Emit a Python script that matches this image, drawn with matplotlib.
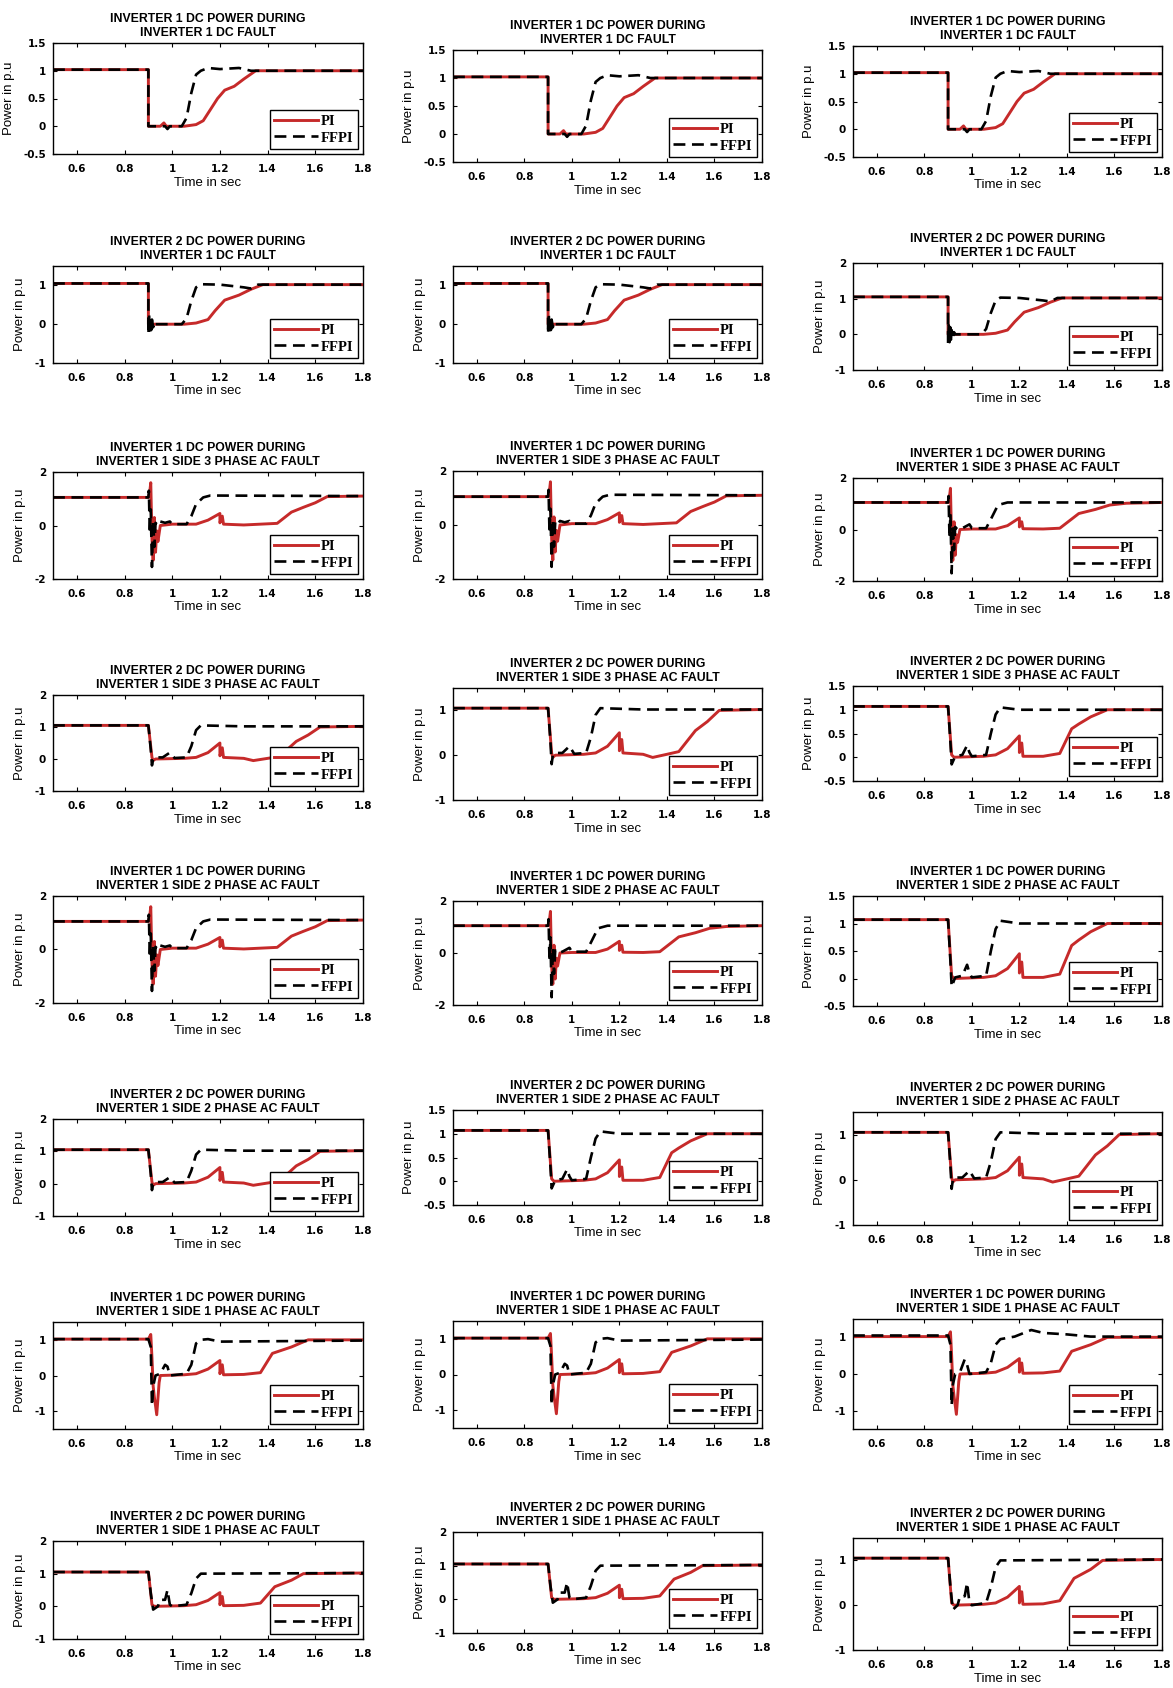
import matplotlib

matplotlib.use("Agg")
import matplotlib.pyplot as plt
from matplotlib.ticker import FuncFormatter

plt.rcParams["axes.unicode_minus"] = False

# ---- traces (time in s, power in p.u) ----
# inverter 1 DC power, inverter 1 DC fault
T_DC1_PI = [0.5, 0.9, 0.9, 0.95, 0.965, 0.975, 0.985, 1.05, 1.1, 1.13, 1.16, 1.19, 1.22, 1.26, 1.3, 1.35, 1.8]
P_DC1_PI = [1.02, 1.02, 0.0, 0.0, 0.06, 0.0, 0.0, 0.0, 0.03, 0.1, 0.3, 0.5, 0.65, 0.72, 0.85, 1.0, 1.0]
T_DC1_FF = [0.5, 0.9, 0.9, 0.97, 0.98, 0.99, 1.04, 1.06, 1.08, 1.1, 1.12, 1.15, 1.2, 1.28, 1.33, 1.8]
P_DC1_FF = [1.02, 1.02, 0.0, 0.0, -0.05, 0.0, 0.0, 0.15, 0.6, 0.93, 1.0, 1.05, 1.03, 1.05, 1.0, 1.0]

# inverter 2 DC power, inverter 1 DC fault
T_DC2_PI = [0.5, 0.9, 0.9, 0.95, 1.05, 1.1, 1.15, 1.18, 1.22, 1.28, 1.33, 1.38, 1.8]
P_DC2_PI = [1.05, 1.05, 0.0, 0.0, 0.0, 0.03, 0.12, 0.35, 0.62, 0.75, 0.9, 1.02, 1.02]
T_DC2_FF = [0.5, 0.9, 0.9, 0.903, 0.906, 0.909, 0.912, 0.915, 0.92, 0.925, 0.93, 0.95, 1.04, 1.06,
            1.08, 1.1, 1.12, 1.2, 1.3, 1.33, 1.36, 1.8]
P_DC2_FF = [1.05, 1.05, -0.25, 0.25, -0.22, 0.2, -0.15, 0.12, -0.08, 0.06, 0.0, 0.0, 0.0, 0.15,
            0.6, 0.95, 1.03, 1.02, 0.95, 0.92, 1.02, 1.02]

# inverter 1 DC power, AC fault on inverter 1 side (slow recovery)
T_AC_I1_PI = [0.5, 0.9, 0.905, 0.91, 0.915, 0.92, 0.925, 0.93, 0.935, 0.94, 0.95, 1.0, 1.1, 1.15, 1.2,
              1.2, 1.21, 1.215, 1.3, 1.44, 1.5, 1.55, 1.6, 1.65, 1.8]
P_AC_I1_PI = [1.05, 1.05, 1.2, 1.6, -0.5, -1.3, 0.3, -1.0, -0.2, -0.6, 0.0, 0.05, 0.05, 0.2, 0.45,
              0.1, 0.35, 0.05, 0.02, 0.08, 0.5, 0.68, 0.85, 1.08, 1.1]
T_AC_I1_FF = [0.5, 0.9, 0.902, 0.906, 0.91, 0.915, 0.92, 0.925, 0.93, 0.94, 0.95, 0.97, 0.99, 1.0,
              1.06, 1.08, 1.1, 1.13, 1.16, 1.8]
P_AC_I1_FF = [1.05, 1.05, 1.3, -0.3, 0.6, -1.55, 0.2, -0.8, 0.1, 0.0, 0.15, 0.1, 0.15, 0.05,
              0.05, 0.35, 0.8, 1.05, 1.12, 1.1]

# inverter 1 DC power, AC fault on inverter 1 side (faster recovery)
T_AC_I1B_PI = [0.5, 0.9, 0.905, 0.91, 0.915, 0.92, 0.925, 0.93, 0.935, 0.94, 0.95, 1.0, 1.1, 1.15, 1.2,
               1.2, 1.21, 1.215, 1.3, 1.37, 1.45, 1.52, 1.58, 1.65, 1.8]
P_AC_I1B_PI = [1.05, 1.05, 1.2, 1.6, -0.5, -1.2, 0.3, -1.0, -0.2, -0.5, 0.0, 0.02, 0.02, 0.15, 0.45,
               0.1, 0.3, 0.03, 0.02, 0.05, 0.62, 0.78, 0.95, 1.02, 1.05]
T_AC_I1B_FF = [0.5, 0.9, 0.902, 0.906, 0.91, 0.915, 0.92, 0.925, 0.93, 0.94, 0.96, 0.99, 1.0,
               1.06, 1.08, 1.11, 1.15, 1.8]
P_AC_I1B_FF = [1.05, 1.05, 1.3, -0.3, 0.6, -1.7, 0.2, -0.8, 0.1, 0.0, 0.05, 0.2, 0.05,
               0.05, 0.4, 0.95, 1.05, 1.05]

# inverter 2 DC power, AC fault on inverter 1 side (slow recovery)
T_AC_I2_PI = [0.5, 0.9, 0.915, 0.92, 0.93, 1.05, 1.1, 1.15, 1.2, 1.2, 1.21, 1.215, 1.3, 1.34, 1.4,
              1.45, 1.52, 1.57, 1.62, 1.8]
P_AC_I2_PI = [1.05, 1.05, 0.05, -0.05, 0.0, 0.02, 0.05, 0.2, 0.5, 0.1, 0.35, 0.05, 0.02, -0.05, 0.02,
              0.08, 0.55, 0.75, 1.0, 1.02]
T_AC_I2_FF = [0.5, 0.9, 0.91, 0.915, 0.92, 0.93, 0.96, 0.99, 1.01, 1.06, 1.08, 1.1, 1.12, 1.3, 1.8]
P_AC_I2_FF = [1.05, 1.05, 0.3, -0.2, 0.0, 0.05, 0.05, 0.2, 0.03, 0.05, 0.4, 0.9, 1.05, 1.02, 1.02]

# inverter 2 DC power, AC fault on inverter 1 side (faster recovery)
T_AC_I2F_PI = [0.5, 0.9, 0.915, 0.925, 1.05, 1.1, 1.15, 1.2, 1.2, 1.21, 1.215, 1.3, 1.37, 1.42,
               1.45, 1.5, 1.57, 1.8]
P_AC_I2F_PI = [1.07, 1.07, 0.05, 0.0, 0.02, 0.05, 0.18, 0.45, 0.1, 0.3, 0.02, 0.02, 0.08, 0.6,
               0.7, 0.85, 1.0, 1.0]
T_AC_I2F_FF = [0.5, 0.9, 0.91, 0.915, 0.93, 0.96, 0.98, 0.99, 1.0, 1.06, 1.08, 1.1, 1.12, 1.2, 1.8]
P_AC_I2F_FF = [1.07, 1.07, 0.3, -0.15, 0.02, 0.05, 0.25, 0.1, 0.02, 0.05, 0.5, 0.9, 1.05, 1.0, 1.0]

# inverter 1 DC power, single phase AC fault
T_AC1_I1_PI = [0.5, 0.9, 0.91, 0.915, 0.92, 0.925, 0.935, 0.945, 0.95, 1.05, 1.1, 1.15, 1.2, 1.2,
               1.21, 1.215, 1.3, 1.37, 1.42, 1.5, 1.57, 1.8]
P_AC1_I1_PI = [1.02, 1.02, 1.15, 0.5, -0.3, -0.6, -1.1, -0.2, 0.0, 0.02, 0.05, 0.18, 0.42, 0.05,
               0.3, 0.02, 0.03, 0.08, 0.62, 0.8, 1.0, 1.0]
T_AC1_I1_FF = [0.5, 0.9, 0.91, 0.915, 0.92, 0.93, 0.95, 0.97, 0.98, 0.99, 1.06, 1.08, 1.1, 1.12,
               1.15, 1.2, 1.8]
P_AC1_I1_FF = [1.02, 1.02, 0.8, -0.85, -0.3, 0.0, 0.05, 0.3, 0.25, 0.0, 0.05, 0.3, 0.9, 1.0,
               1.02, 0.95, 0.98]
T_AC1_I1B_FF = [0.5, 0.9, 0.91, 0.915, 0.92, 0.93, 0.95, 0.97, 0.98, 0.99, 1.06, 1.08, 1.1, 1.12,
                1.18, 1.25, 1.3, 1.4, 1.5, 1.8]
P_AC1_I1B_FF = [1.05, 1.05, 0.8, -0.85, -0.3, 0.0, 0.05, 0.4, 0.25, 0.0, 0.05, 0.3, 0.8, 0.95,
                1.02, 1.2, 1.12, 1.08, 1.02, 1.02]

# inverter 2 DC power, single phase AC fault
T_AC1_I2_PI = [0.5, 0.9, 0.915, 0.925, 1.05, 1.1, 1.15, 1.2, 1.2, 1.21, 1.215, 1.3, 1.37, 1.43,
               1.5, 1.55, 1.8]
P_AC1_I2_PI = [1.05, 1.05, 0.05, 0.0, 0.02, 0.05, 0.18, 0.42, 0.05, 0.3, 0.02, 0.03, 0.1, 0.6,
               0.8, 1.0, 1.02]
T_AC1_I2_FF = [0.5, 0.9, 0.91, 0.92, 0.94, 0.95, 0.97, 0.98, 0.99, 1.0, 1.06, 1.08, 1.1, 1.12, 1.8]
P_AC1_I2_FF = [1.05, 1.05, 0.4, -0.1, 0.0, 0.2, 0.2, 0.5, 0.05, 0.0, 0.05, 0.4, 0.85, 1.0, 1.02]

TRACES = {
    "dc1": (T_DC1_PI, P_DC1_PI, T_DC1_FF, P_DC1_FF),
    "dc2": (T_DC2_PI, P_DC2_PI, T_DC2_FF, P_DC2_FF),
    "ac_i1": (T_AC_I1_PI, P_AC_I1_PI, T_AC_I1_FF, P_AC_I1_FF),
    "ac_i1b": (T_AC_I1B_PI, P_AC_I1B_PI, T_AC_I1B_FF, P_AC_I1B_FF),
    "ac_i2": (T_AC_I2_PI, P_AC_I2_PI, T_AC_I2_FF, P_AC_I2_FF),
    "ac_i2f": (T_AC_I2F_PI, P_AC_I2F_PI, T_AC_I2F_FF, P_AC_I2F_FF),
    "ac1_i1": (T_AC1_I1_PI, P_AC1_I1_PI, T_AC1_I1_FF, P_AC1_I1_FF),
    "ac1_i1b": (T_AC1_I1_PI, P_AC1_I1_PI, T_AC1_I1B_FF, P_AC1_I1B_FF),
    "ac1_i2": (T_AC1_I2_PI, P_AC1_I2_PI, T_AC1_I2_FF, P_AC1_I2_FF),
}

TITLES = [
    "INVERTER 1 DC POWER DURING\nINVERTER 1 DC FAULT",
    "INVERTER 2 DC POWER DURING\nINVERTER 1 DC FAULT",
    "INVERTER 1 DC POWER DURING\nINVERTER 1 SIDE 3 PHASE AC FAULT",
    "INVERTER 2 DC POWER DURING\nINVERTER 1 SIDE 3 PHASE AC FAULT",
    "INVERTER 1 DC POWER DURING\nINVERTER 1 SIDE 2 PHASE AC FAULT",
    "INVERTER 2 DC POWER DURING\nINVERTER 1 SIDE 2 PHASE AC FAULT",
    "INVERTER 1 DC POWER DURING\nINVERTER 1 SIDE 1 PHASE AC FAULT",
    "INVERTER 2 DC POWER DURING\nINVERTER 1 SIDE 1 PHASE AC FAULT",
]

SHAPES = [
    ["dc1", "dc1", "dc1"],
    ["dc2", "dc2", "dc2"],
    ["ac_i1", "ac_i1", "ac_i1b"],
    ["ac_i2", "ac_i2", "ac_i2f"],
    ["ac_i1", "ac_i1b", "ac_i2f"],
    ["ac_i2", "ac_i2f", "ac_i2"],
    ["ac1_i1", "ac1_i1", "ac1_i1b"],
    ["ac1_i2", "ac1_i2", "ac1_i2"],
]

YLIMS = [
    [(-0.5, 1.5), (-0.5, 1.5), (-0.5, 1.5)],
    [(-1, 1.5), (-1, 1.5), (-1, 2)],
    [(-2, 2), (-2, 2), (-2, 2)],
    [(-1, 2), (-1, 1.5), (-0.5, 1.5)],
    [(-2, 2), (-2, 2), (-0.5, 1.5)],
    [(-1, 2), (-0.5, 1.5), (-1, 1.5)],
    [(-1.5, 1.5), (-1.5, 1.5), (-1.5, 1.5)],
    [(-1, 2), (-1, 2), (-1, 1.5)],
]

YTICKS = {
    (-0.5, 1.5): [-0.5, 0, 0.5, 1, 1.5],
    (-1, 1.5): [-1, 0, 1],
    (-1, 2): [-1, 0, 1, 2],
    (-2, 2): [-2, 0, 2],
    (-1.5, 1.5): [-1, 0, 1],
}
XTICKS = [0.6, 0.8, 1.0, 1.2, 1.4, 1.6, 1.8]

# panel frames in pixels (1173 x 1688 canvas)
W, H = 1173, 1688
COL_X = [(53, 363), (453, 762), (853, 1162)]
ROW_Y = [
    [(43, 154), (50, 162), (46, 157)],
    [(266, 363), (266, 363), (263, 370)],
    [(472, 579), (471, 579), (478, 581)],
    [(695, 791), (688, 800), (686, 781)],
    [(896, 1003), (901, 1005), (896, 1006)],
    [(1119, 1216), (1110, 1205), (1112, 1225)],
    [(1322, 1429), (1321, 1428), (1319, 1429)],
    [(1541, 1639), (1532, 1633), (1538, 1650)],
]

RED = "#c62a2a"
TICK_FONT = ["Liberation Sans Narrow", "DejaVu Sans"]

fig = plt.figure(figsize=(W / 100, H / 100), dpi=100)
fmt = FuncFormatter(lambda v, _: f"{v:g}")

for r in range(8):
    for c in range(3):
        x0, x1 = COL_X[c]
        y0, y1 = ROW_Y[r][c]
        ax = fig.add_axes([x0 / W, 1 - y1 / H, (x1 - x0) / W, (y1 - y0) / H])
        t_pi, p_pi, t_ff, p_ff = TRACES[SHAPES[r][c]]
        ax.plot(t_pi, p_pi, color=RED, lw=2.1, label="PI", zorder=2)
        ax.plot(t_ff, p_ff, color="black", lw=1.9, ls=(0, (4.5, 2.5)), label="FFPI", zorder=3)

        ylim = YLIMS[r][c]
        ax.set_xlim(0.5, 1.8)
        ax.set_ylim(*ylim)
        ax.set_xticks(XTICKS)
        ax.set_yticks(YTICKS[ylim])
        ax.xaxis.set_major_formatter(fmt)
        ax.yaxis.set_major_formatter(fmt)
        ax.tick_params(direction="in", length=3, width=0.8, top=True, right=True,
                       labelsize=7.5)
        ax.tick_params(axis="x", pad=7)
        ax.tick_params(axis="y", pad=5)
        for lab in ax.get_xticklabels() + ax.get_yticklabels():
            lab.set_family(TICK_FONT)
            lab.set_fontweight("bold")
        for sp in ax.spines.values():
            sp.set_linewidth(1.0)

        ax.set_title(TITLES[r], fontsize=8.8, fontweight="bold", family="Liberation Sans",
                     pad=5, linespacing=1.25)
        ax.set_xlabel("Time in sec", fontsize=9.5, family="Liberation Sans", labelpad=2)
        ax.set_ylabel("Power in p.u", fontsize=9.5, family="Liberation Sans", labelpad=6)

        leg = ax.legend(loc="lower right", frameon=True, fancybox=False, framealpha=1,
                        edgecolor="black", handlelength=3.0, handletextpad=0.2,
                        labelspacing=0.25, borderpad=0.3, borderaxespad=0.35,
                        prop={"family": "Liberation Serif", "weight": "bold", "size": 10.5})
        leg.get_frame().set_linewidth(1.0)

fig.savefig("out.png", dpi=100)
